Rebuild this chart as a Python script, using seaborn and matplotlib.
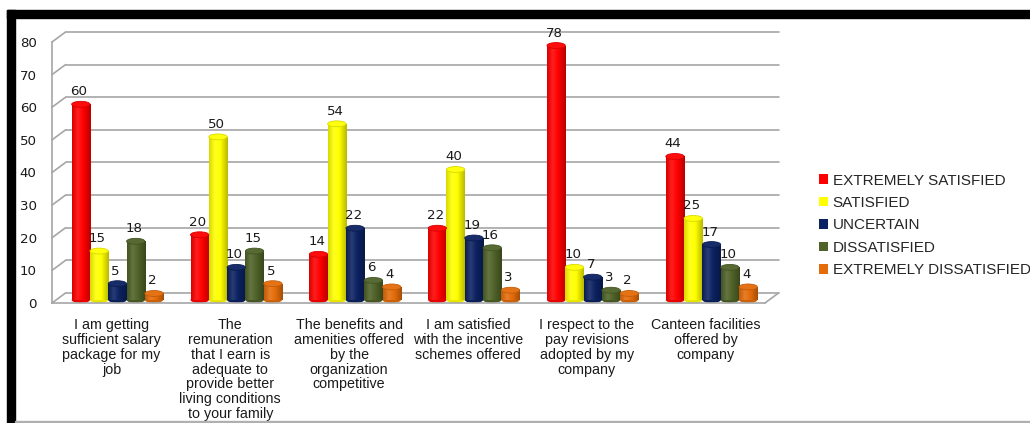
import numpy as np
import pandas as pd
import matplotlib
matplotlib.use("Agg")
import matplotlib.pyplot as plt
import matplotlib.transforms as mtransforms
from matplotlib.colors import LinearSegmentedColormap, to_rgb
from matplotlib.patches import Ellipse, Patch, Rectangle
from matplotlib.lines import Line2D
import seaborn as sns

# Survey statements (x-axis categories)
statements = [
    "I am getting\nsufficient salary\npackage for my\njob",
    "The\nremuneration\nthat I earn is\nadequate to\nprovide better\nliving conditions\nto your family",
    "The benefits and\namenities offered\nby the\norganization\ncompetitive",
    "I am satisfied\nwith the incentive\nschemes offered",
    "I respect to the\npay revisions\nadopted by my\ncompany",
    "Canteen facilities\noffered by\ncompany",
]

levels = ["EXTREMELY SATISFIED", "SATISFIED", "UNCERTAIN",
          "DISSATISFIED", "EXTREMELY DISSATISFIED"]

extremely_satisfied = [60, 20, 14, 22, 78, 44]
satisfied = [15, 50, 54, 40, 10, 25]
uncertain = [5, 10, 22, 19, 7, 17]
dissatisfied = [18, 15, 6, 16, 3, 10]
extremely_dissatisfied = [2, 5, 4, 3, 2, 4]

y_ticks = [0, 10, 20, 30, 40, 50, 60, 70, 80]

colors = ["#FF0000", "#FFFF00", "#0B2161", "#4F6228", "#E46C0A"]

series = [extremely_satisfied, satisfied, uncertain, dissatisfied, extremely_dissatisfied]
df = pd.DataFrame({
    "statement": statements * len(levels),
    "level": np.repeat(levels, len(statements)),
    "count": np.concatenate(series),
})

sns.set_style("white")
plt.rcParams["font.family"] = ["Liberation Sans", "DejaVu Sans"]

fig = plt.figure(figsize=(10.30, 4.23), dpi=100)
ax = fig.add_axes([0.0505, 0.2837, 0.6922, 0.6170])

sns.barplot(data=df, x="statement", y="count", hue="level", order=statements,
            hue_order=levels, palette=colors, width=0.77, saturation=1,
            legend=False, ax=ax, edgecolor="none", linewidth=0)

ax.set_xlim(-0.5, 5.5)
ax.set_ylim(0, 80)

# depth of the pseudo-3D back wall, in data units
dx, dy = 0.114, 3.07
grid_color = "#A6A6A6"
for yv in y_ticks:
    ax.add_line(Line2D([-0.5 + dx, 5.5 + dx], [yv + dy, yv + dy], color=grid_color,
                       lw=1.2, clip_on=False, zorder=0.5))
    ax.add_line(Line2D([-0.5, -0.5 + dx], [yv, yv + dy], color=grid_color,
                       lw=1.2, clip_on=False, zorder=0.5))
ax.add_line(Line2D([5.5, 5.5 + dx], [0, dy], color=grid_color, lw=1.2,
                   clip_on=False, zorder=0.5))

# bars sit a little into the depth of the floor
bar_tf = ax.transData + mtransforms.ScaledTranslation(0.06, 0.03, fig.dpi_scale_trans)


def lighten(c, f):
    r = np.array(to_rgb(c))
    return tuple(r + (1 - r) * f)


def darken(c, f):
    return tuple(np.array(to_rgb(c)) * (1 - f))


grad = np.linspace(0, 1, 64).reshape(1, -1)
for container, col, vals in zip(ax.containers, colors, series):
    cmap = LinearSegmentedColormap.from_list(
        "cyl", [(0, darken(col, 0.15)), (0.3, lighten(col, 0.12)),
                (0.6, col), (1, darken(col, 0.28))])
    for patch, val in zip(container.patches, vals):
        patch.set_transform(bar_tf)
        x0, w = patch.get_x(), patch.get_width()
        im = ax.imshow(grad, extent=[x0, x0 + w, 0, val], aspect="auto",
                       cmap=cmap, transform=bar_tf, zorder=2.1,
                       interpolation="bilinear")
        im.set_clip_path(patch)
        cap = Ellipse((x0 + w / 2, val), w, 1.8, transform=bar_tf,
                      facecolor=lighten(col, 0.05), edgecolor=darken(col, 0.15),
                      lw=0.6, zorder=2.3)
        ax.add_patch(cap)
        base = Ellipse((x0 + w / 2, 0), w, 1.8, transform=bar_tf,
                       facecolor=darken(col, 0.1), edgecolor="none", zorder=2.0)
        ax.add_patch(base)
        ax.annotate(f"{val}", xy=(x0 + w / 2, val), xytext=(3.0, 6.5),
                    textcoords="offset points", ha="center", va="bottom",
                    fontsize=9.6, color="#1A1A1A", family="DejaVu Sans",
                    zorder=3)

ax.set_xlim(-0.5, 5.5)
ax.set_ylim(0, 80)

ax.set_yticks(y_ticks)
ax.set_yticklabels([str(t) for t in y_ticks], family="DejaVu Sans", fontsize=9.6,
                   color="#1A1A1A")
ax.tick_params(axis="y", length=3, color=grid_color, pad=8)

ax.set_xticks(range(len(statements)))
ax.set_xticklabels(statements, fontsize=10.3, color="#1A1A1A", linespacing=1.07)
ax.tick_params(axis="x", length=0, pad=11)
ax.set_xticks(np.arange(-0.5, 6, 1), minor=True)
ax.tick_params(axis="x", which="minor", length=5, color=grid_color, width=1)
ax.set_xlabel("")
ax.set_ylabel("")

for side in ("top", "right"):
    ax.spines[side].set_visible(False)
for side in ("left", "bottom"):
    ax.spines[side].set_color(grid_color)
    ax.spines[side].set_linewidth(1.2)
ax.patch.set_alpha(0)

handles = [Patch(facecolor=c, edgecolor="none") for c in colors]
fig.legend(handles, levels, loc="upper left", bbox_to_anchor=(0.789, 0.604),
           frameon=False, fontsize=11, handlelength=0.6, handleheight=0.6,
           handletextpad=0.3, labelspacing=0.55, borderaxespad=0)

# black frame along the top and left edge, thin rule along the bottom
fig.patches.append(Rectangle((7 / 1030, 1 - 18 / 423), 1, 8 / 423,
                             transform=fig.transFigure, color="black", zorder=10))
fig.patches.append(Rectangle((7 / 1030, 0), 8 / 1030, 1 - 10 / 423,
                             transform=fig.transFigure, color="black", zorder=10))
fig.patches.append(Rectangle((15 / 1030, 1 / 423), 1, 1.2 / 423,
                             transform=fig.transFigure, color="#B0B0B0", zorder=10))

fig.savefig("out.png", dpi=100)
